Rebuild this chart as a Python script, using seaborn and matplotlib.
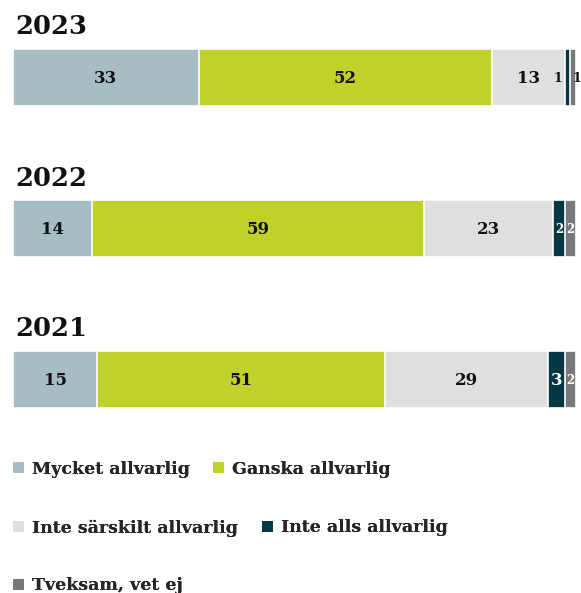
import matplotlib
matplotlib.use("Agg")
import matplotlib.pyplot as plt
import seaborn as sns
import pandas as pd
import numpy as np
from matplotlib.patches import Patch

years = ["2023", "2022", "2021"]
categories = ["Mycket allvarlig", "Ganska allvarlig", "Inte särskilt allvarlig",
              "Inte alls allvarlig", "Tveksam, vet ej"]
values_2023 = [33, 52, 13, 1, 1]
values_2022 = [14, 59, 23, 2, 2]
values_2021 = [15, 51, 29, 3, 2]
colors = ["#a6bdc4", "#c0d12b", "#dfe0de", "#033743", "#77787b"]
label_colors = ["#111111", "#111111", "#111111", "white", "white"]

series = {"2023": values_2023, "2022": values_2022, "2021": values_2021}

rows = []
for y in years:
    cum = 0
    for c, v in zip(categories, series[y]):
        rows.append(dict(year=y, category=c, value=v, start=cum, end=cum + v))
        cum += v
df = pd.DataFrame(rows)

sns.set_theme(style="white")
plt.rcParams["font.family"] = ["DejaVu Serif", "DejaVu Sans"]

W, H = 581, 593
fig = plt.figure(figsize=(W / 100, H / 100), dpi=100)

bar_tops = [49, 200, 351]
bar_h = 57
x0, x1 = 13, 576

for yr, top in zip(years, bar_tops):
    ax = fig.add_axes([x0 / W, 1 - (top + bar_h) / H, (x1 - x0) / W, bar_h / H])
    sub = df[df.year == yr]
    for i in range(len(categories) - 1, -1, -1):
        r = sub.iloc[[i]]
        sns.barplot(data=r, x="end", y="year", color=colors[i], ax=ax,
                    width=1.0, edgecolor="white", linewidth=1.2, saturation=1)
    ax.set_xlim(0, 100)
    ax.set_ylim(0.5, -0.5)
    ax.axis("off")
    n = len(categories)
    for i in range(n):
        r = sub.iloc[i]
        v = r["value"]
        if v <= 1:
            if i == n - 1:
                xp, ha = r["end"] - 0.55, "left"
            else:
                xp, ha = r["start"] - 0.5, "right"
            col = "#111111"
            fs = 9
        else:
            xp, ha = (r["start"] + r["end"]) / 2, "center"
            col = label_colors[i]
            fs = 12 if v > 2 else 8.5
        ax.text(xp, 0.02, str(int(v)), ha=ha, va="center", color=col,
                fontsize=fs, fontweight="bold", clip_on=False)
    fig.text(15 / W, 1 - (top - 22) / H, yr, ha="left", va="center",
             fontsize=18.5, fontweight="bold", color="#111111")

legend_rows = [[0, 1], [2, 3], [4]]
legend_y = [469, 528, 586]
legend_x = [[13, 213], [13, 262], [13]]
for row, ly, lxs in zip(legend_rows, legend_y, legend_x):
    for idx, lx in zip(row, lxs):
        leg = fig.legend(handles=[Patch(facecolor=colors[idx], edgecolor="none")],
                         labels=[categories[idx]], loc="center left",
                         bbox_to_anchor=(lx / W, 1 - ly / H), frameon=False,
                         prop=dict(size=12.5, weight="bold"),
                         handlelength=0.65, handleheight=0.65, handletextpad=0.45,
                         borderpad=0, borderaxespad=0)
        fig.add_artist(leg)

fig.savefig("out.png", dpi=100)
